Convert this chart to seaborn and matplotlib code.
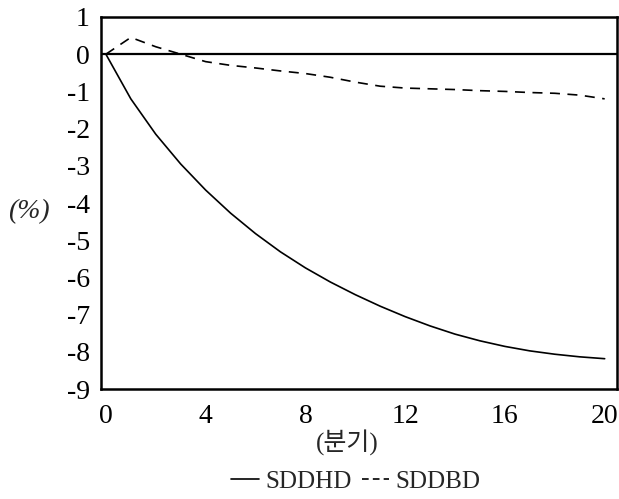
import numpy as np
import pandas as pd
import matplotlib
matplotlib.use("Agg")
import matplotlib.pyplot as plt
import seaborn as sns
from matplotlib.lines import Line2D

quarters = list(range(0, 21))
sddhd = [0.0, -1.2, -2.15, -2.95, -3.65, -4.27, -4.82, -5.31, -5.74, -6.12, -6.46,
         -6.77, -7.05, -7.30, -7.52, -7.70, -7.85, -7.97, -8.06, -8.13, -8.18]
sddbd = [0.0, 0.45, 0.2, 0.0, -0.2, -0.3, -0.37, -0.45, -0.52, -0.62, -0.75,
         -0.86, -0.91, -0.93, -0.95, -0.98, -1.0, -1.03, -1.05, -1.1, -1.2]
series_names = ["SDDHD", "SDDBD"]
xticks = [0, 4, 8, 12, 16, 20]
yticks = [1, 0, -1, -2, -3, -4, -5, -6, -7, -8, -9]

df = pd.DataFrame({
    "q": quarters * 2,
    "v": sddhd + sddbd,
    "s": [series_names[0]] * len(quarters) + [series_names[1]] * len(quarters),
})

sns.set_theme(style="white")
plt.rcParams["font.family"] = ["Liberation Serif", "Noto Sans CJK KR"]
plt.rcParams["axes.unicode_minus"] = False

fig = plt.figure(figsize=(6.19, 4.99), dpi=100)
ax = fig.add_axes([0.163, 0.220, 0.834, 0.746])

sns.lineplot(data=df, x="q", y="v", hue="s", style="s",
             palette={"SDDHD": "black", "SDDBD": "black"},
             dashes={"SDDHD": "", "SDDBD": (6, 4.5)},
             linewidth=1.2, ax=ax, legend=False)
ax.axhline(0, color="black", linewidth=1.6, zorder=1)

ax.set_xlim(-0.2, 20.5)
ax.set_ylim(-9, 1)
ax.set_xticks(xticks)
ax.set_xticklabels([str(t) for t in xticks])
ax.set_yticks(yticks)
ax.set_yticklabels([str(t) for t in yticks])
ax.tick_params(axis="both", direction="out", length=7, width=1.3,
               color="black", labelsize=20, labelcolor="black")
ax.tick_params(axis="y", pad=1)
ax.tick_params(axis="x", pad=4)
for sp in ax.spines.values():
    sp.set_color("black")
    sp.set_linewidth(1.8)

ax.set_xlabel("(분기)", fontsize=18, labelpad=-4)
ax.xaxis.set_label_coords(0.478, -0.11)
ax.set_ylabel("(%)", fontsize=20, rotation=0, style="italic",
              ha="center", va="center")
ax.yaxis.set_label_coords(-0.14, 0.476)

handles = [Line2D([], [], color="black", lw=1.2),
           Line2D([], [], color="black", lw=1.2, dashes=(4, 2.5))]
fig.legend(handles, series_names, loc="center", bbox_to_anchor=(0.575, 0.035),
           ncol=2, frameon=False, fontsize=18, handlelength=1.1,
           handletextpad=0.25, columnspacing=0.4)

fig.savefig("out.png", dpi=100)
